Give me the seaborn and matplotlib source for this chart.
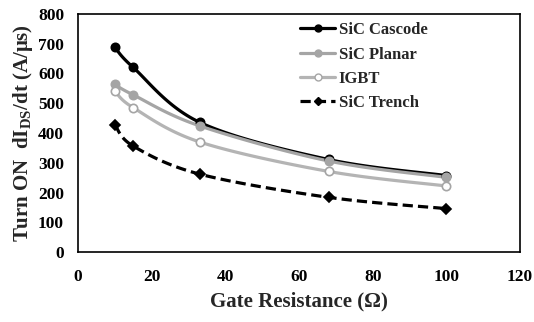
import numpy as np
import matplotlib
matplotlib.use("Agg")
import matplotlib.pyplot as plt
import seaborn as sns
import pandas as pd

# Gate resistance values (ohm)
gate_res = [10, 15, 33, 68, 100]

# Turn-on dI/dt (A/us) per device
sic_cascode = [688, 620, 436, 311, 257]
sic_planar = [563, 528, 424, 306, 251]
igbt = [541, 485, 370, 271, 222]
sic_trench = [428, 356, 262, 184, 146]

series_names = ["SiC Cascode", "SiC Planar", "IGBT", "SiC Trench"]

sns.set_theme(style="white")
plt.rcParams["font.family"] = ["Liberation Serif", "DejaVu Serif"]
plt.rcParams["font.weight"] = "bold"
plt.rcParams["mathtext.fontset"] = "custom"
plt.rcParams["mathtext.rm"] = "Liberation Serif:bold"
plt.rcParams["mathtext.bf"] = "Liberation Serif:bold"

df = pd.DataFrame({
    "R": gate_res * 4,
    "val": sic_cascode + sic_planar + igbt + sic_trench,
    "dev": sum([[n] * len(gate_res) for n in series_names], []),
})

styles = {
    "SiC Cascode": dict(color="black", ls="-", marker="o", mfc="black", mec="black", ms=6),
    "SiC Planar": dict(color="#a5a5a5", ls="-", marker="o", mfc="#a5a5a5", mec="#a5a5a5", ms=6),
    "IGBT": dict(color="#b4b4b4", ls="-", marker="o", mfc="white", mec="#a5a5a5", ms=6),
    "SiC Trench": dict(color="black", ls=(0, (3.2, 1.6)), marker="D", mfc="black", mec="black", ms=5),
}

fig = plt.figure(figsize=(5.34, 3.22), dpi=100)
ax = fig.add_axes([0.146, 0.217, 0.828, 0.74])

xr, yr = 120.0, 800.0


def smooth(xs, ys, n=30):
    # Catmull-Rom style cubic Bezier through the points (in axis-normalised space)
    P = np.column_stack([np.asarray(xs, float) / xr, np.asarray(ys, float) / yr])
    out = []
    for i in range(len(P) - 1):
        p0 = P[i - 1] if i > 0 else P[i]
        p1, p2 = P[i], P[i + 1]
        p3 = P[i + 2] if i + 2 < len(P) else P[i + 1]
        c1 = p1 + (p2 - p0) / 6.0
        c2 = p2 - (p3 - p1) / 6.0
        t = np.linspace(0, 1, n)[:, None]
        seg = ((1 - t) ** 3) * p1 + 3 * ((1 - t) ** 2) * t * c1 + 3 * (1 - t) * t ** 2 * c2 + t ** 3 * p2
        out.append(seg if i == 0 else seg[1:])
    S = np.vstack(out)
    return S[:, 0] * xr, S[:, 1] * yr


handles = []
for name in series_names:
    st = styles[name]
    sub = df[df["dev"] == name]
    sx, sy = smooth(sub["R"].values, sub["val"].values)
    ax.plot(sx, sy, color=st["color"], ls=st["ls"], lw=2.3, zorder=2)
    sns.lineplot(data=sub, x="R", y="val", ax=ax, lw=0, marker=st["marker"],
                 markersize=st["ms"], markerfacecolor=st["mfc"],
                 markeredgecolor=st["mec"], markeredgewidth=1.2, legend=False, zorder=3)
    h, = ax.plot([], [], color=st["color"], ls=st["ls"], lw=2.3, marker=st["marker"],
                 markersize=st["ms"] - 1, markerfacecolor=st["mfc"], markeredgecolor=st["mec"])
    handles.append(h)

ax.set_xlim(0, 120)
ax.set_ylim(0, 800)
ax.set_xticks(np.arange(0, 121, 20))
ax.set_yticks(np.arange(0, 801, 100))
ax.tick_params(axis="x", direction="in", length=4, width=1.2, colors="black",
               labelsize=12.5, pad=12)
ax.tick_params(axis="y", length=0, labelsize=12.5, pad=10, colors="black")
for lab in ax.get_xticklabels() + ax.get_yticklabels():
    lab.set_fontweight("bold")

for sp in ax.spines.values():
    sp.set_color("black")
    sp.set_linewidth(1.2)

ax.set_xlabel("Gate Resistance (Ω)", fontsize=15, fontweight="bold", labelpad=5)
ax.set_ylabel(r"Turn ON  dI$_{\rm DS}$/dt (A/μs)", fontsize=15, fontweight="bold", labelpad=2)

leg = ax.legend(handles, series_names, loc="upper right", bbox_to_anchor=(0.815, 1.01),
                frameon=False, fontsize=12, handlelength=2.1, handletextpad=0.2,
                labelspacing=0.5, borderaxespad=0.25)
for t in leg.get_texts():
    t.set_fontweight("bold")

fig.savefig("out.png", dpi=100)
